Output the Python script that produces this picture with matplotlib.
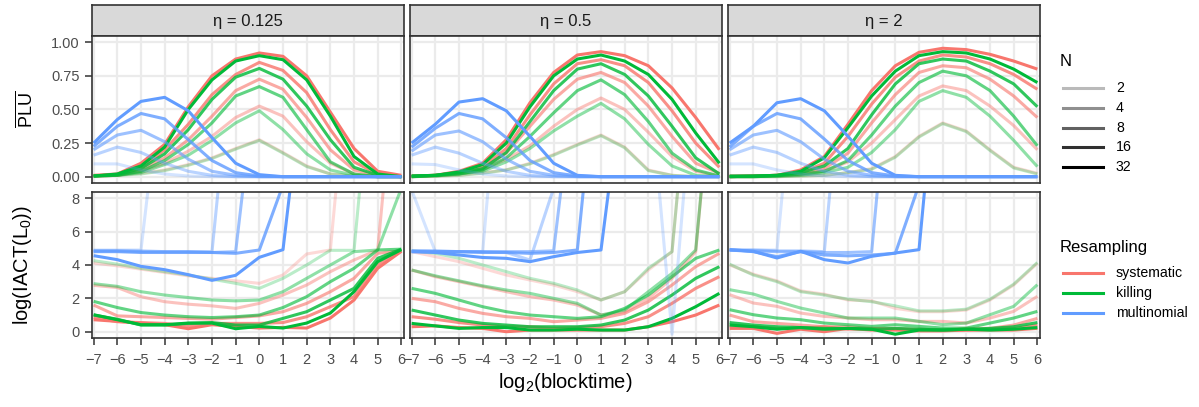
import matplotlib
matplotlib.use("Agg")
import matplotlib.pyplot as plt
from matplotlib.lines import Line2D

# ---------------------------------------------------------------- data
blocktime_log2 = list(range(-7, 7))
eta_labels = ["η = 0.125", "η = 0.5", "η = 2"]
N_values = [2, 4, 8, 16, 32]
N_alpha = [0.27, 0.44, 0.62, 0.81, 1.0]
methods = ["systematic", "killing", "multinomial"]
method_colors = ["#F8766D", "#00BA38", "#619CFF"]

# PLU, one row per N (2, 4, 8, 16, 32)
plu_eta0125_systematic = [
    [0.005, 0.01, 0.025, 0.05, 0.09, 0.14, 0.21, 0.275, 0.18, 0.08, 0.02, 0.005, 0.0, 0.0],
    [0.005, 0.01, 0.04, 0.10, 0.19, 0.30, 0.44, 0.525, 0.45, 0.26, 0.10, 0.02, 0.0, 0.0],
    [0.005, 0.01, 0.05, 0.14, 0.275, 0.45, 0.64, 0.725, 0.65, 0.44, 0.20, 0.05, 0.01, 0.0],
    [0.005, 0.015, 0.065, 0.20, 0.39, 0.61, 0.76, 0.85, 0.79, 0.625, 0.35, 0.11, 0.02, 0.0],
    [0.01, 0.02, 0.10, 0.24, 0.52, 0.75, 0.875, 0.92, 0.895, 0.75, 0.48, 0.21, 0.04, 0.01],
]
plu_eta0125_killing = [
    [0.005, 0.01, 0.02, 0.045, 0.085, 0.135, 0.205, 0.27, 0.175, 0.075, 0.02, 0.005, 0.0, 0.0],
    [0.005, 0.01, 0.03, 0.09, 0.16, 0.27, 0.40, 0.49, 0.35, 0.17, 0.05, 0.01, 0.0, 0.0],
    [0.005, 0.01, 0.04, 0.12, 0.24, 0.40, 0.60, 0.67, 0.59, 0.35, 0.11, 0.02, 0.0, 0.0],
    [0.005, 0.015, 0.06, 0.17, 0.35, 0.575, 0.74, 0.805, 0.725, 0.525, 0.275, 0.07, 0.01, 0.0],
    [0.005, 0.02, 0.08, 0.22, 0.50, 0.72, 0.86, 0.90, 0.87, 0.72, 0.45, 0.15, 0.02, 0.0],
]
plu_eta0125_multinomial = [
    [0.095, 0.095, 0.05, 0.02, 0.005, 0.0, 0.0, 0.0, 0.0, 0.0, 0.0, 0.0, 0.0, 0.0],
    [0.16, 0.22, 0.18, 0.10, 0.04, 0.01, 0.0, 0.0, 0.0, 0.0, 0.0, 0.0, 0.0, 0.0],
    [0.20, 0.31, 0.345, 0.26, 0.13, 0.04, 0.01, 0.0, 0.0, 0.0, 0.0, 0.0, 0.0, 0.0],
    [0.225, 0.375, 0.47, 0.43, 0.275, 0.12, 0.03, 0.005, 0.0, 0.0, 0.0, 0.0, 0.0, 0.0],
    [0.25, 0.425, 0.56, 0.59, 0.49, 0.29, 0.10, 0.015, 0.0, 0.0, 0.0, 0.0, 0.0, 0.0],
]

plu_eta05_systematic = [
    [0.0, 0.005, 0.01, 0.03, 0.05, 0.10, 0.165, 0.24, 0.31, 0.22, 0.05, 0.01, 0.0, 0.0],
    [0.0, 0.005, 0.02, 0.05, 0.13, 0.23, 0.375, 0.50, 0.585, 0.50, 0.33, 0.15, 0.04, 0.005],
    [0.0, 0.01, 0.025, 0.06, 0.175, 0.375, 0.575, 0.725, 0.775, 0.70, 0.525, 0.30, 0.10, 0.025],
    [0.005, 0.01, 0.03, 0.07, 0.21, 0.46, 0.69, 0.84, 0.87, 0.825, 0.70, 0.49, 0.25, 0.07],
    [0.005, 0.01, 0.04, 0.10, 0.275, 0.55, 0.775, 0.905, 0.93, 0.90, 0.825, 0.66, 0.44, 0.20],
]
plu_eta05_killing = [
    [0.0, 0.005, 0.01, 0.025, 0.05, 0.095, 0.16, 0.235, 0.305, 0.215, 0.045, 0.01, 0.0, 0.0],
    [0.0, 0.005, 0.02, 0.04, 0.11, 0.21, 0.34, 0.45, 0.545, 0.43, 0.24, 0.08, 0.01, 0.0],
    [0.0, 0.01, 0.02, 0.05, 0.14, 0.30, 0.475, 0.64, 0.72, 0.61, 0.41, 0.175, 0.05, 0.005],
    [0.005, 0.01, 0.03, 0.06, 0.18, 0.41, 0.64, 0.80, 0.84, 0.76, 0.60, 0.375, 0.14, 0.02],
    [0.005, 0.01, 0.035, 0.09, 0.25, 0.52, 0.75, 0.875, 0.905, 0.86, 0.76, 0.575, 0.325, 0.10],
]
plu_eta05_multinomial = [
    [0.095, 0.09, 0.05, 0.02, 0.005, 0.0, 0.0, 0.0, 0.0, 0.0, 0.0, 0.0, 0.0, 0.0],
    [0.16, 0.22, 0.175, 0.10, 0.04, 0.01, 0.0, 0.0, 0.0, 0.0, 0.0, 0.0, 0.0, 0.0],
    [0.19, 0.31, 0.34, 0.26, 0.13, 0.04, 0.01, 0.0, 0.0, 0.0, 0.0, 0.0, 0.0, 0.0],
    [0.22, 0.36, 0.47, 0.43, 0.29, 0.12, 0.03, 0.005, 0.0, 0.0, 0.0, 0.0, 0.0, 0.0],
    [0.25, 0.39, 0.555, 0.58, 0.49, 0.30, 0.10, 0.01, 0.0, 0.0, 0.0, 0.0, 0.0, 0.0],
]

plu_eta2_systematic = [
    [0.0, 0.0, 0.0, 0.005, 0.01, 0.03, 0.06, 0.15, 0.30, 0.40, 0.34, 0.20, 0.07, 0.025],
    [0.0, 0.0, 0.005, 0.015, 0.04, 0.11, 0.25, 0.425, 0.60, 0.675, 0.64, 0.525, 0.38, 0.20],
    [0.0, 0.005, 0.01, 0.02, 0.06, 0.175, 0.40, 0.61, 0.775, 0.825, 0.81, 0.725, 0.60, 0.44],
    [0.0, 0.005, 0.01, 0.03, 0.10, 0.30, 0.54, 0.74, 0.86, 0.905, 0.89, 0.84, 0.76, 0.65],
    [0.005, 0.005, 0.01, 0.05, 0.15, 0.39, 0.64, 0.825, 0.925, 0.955, 0.945, 0.91, 0.86, 0.80],
]
plu_eta2_killing = [
    [0.0, 0.0, 0.0, 0.005, 0.01, 0.03, 0.055, 0.145, 0.295, 0.395, 0.335, 0.195, 0.065, 0.02],
    [0.0, 0.0, 0.005, 0.01, 0.03, 0.07, 0.18, 0.35, 0.56, 0.64, 0.59, 0.45, 0.27, 0.075],
    [0.0, 0.0, 0.005, 0.02, 0.04, 0.12, 0.31, 0.525, 0.70, 0.785, 0.75, 0.64, 0.45, 0.23],
    [0.0, 0.005, 0.01, 0.03, 0.08, 0.21, 0.46, 0.69, 0.84, 0.875, 0.86, 0.785, 0.69, 0.52],
    [0.005, 0.005, 0.01, 0.04, 0.14, 0.365, 0.60, 0.785, 0.90, 0.93, 0.92, 0.875, 0.80, 0.70],
]
plu_eta2_multinomial = [
    [0.095, 0.095, 0.05, 0.02, 0.005, 0.0, 0.0, 0.0, 0.0, 0.0, 0.0, 0.0, 0.0, 0.0],
    [0.16, 0.22, 0.18, 0.10, 0.04, 0.01, 0.0, 0.0, 0.0, 0.0, 0.0, 0.0, 0.0, 0.0],
    [0.20, 0.31, 0.345, 0.26, 0.13, 0.04, 0.01, 0.0, 0.0, 0.0, 0.0, 0.0, 0.0, 0.0],
    [0.22, 0.375, 0.47, 0.43, 0.28, 0.12, 0.03, 0.005, 0.0, 0.0, 0.0, 0.0, 0.0, 0.0],
    [0.25, 0.375, 0.55, 0.58, 0.49, 0.30, 0.10, 0.01, 0.0, 0.0, 0.0, 0.0, 0.0, 0.0],
]

# log(IACT(L0)), one row per N (2, 4, 8, 16, 32)
iact_eta0125_systematic = [
    [4.12, 3.95, 3.75, 3.55, 3.35, 3.2, 3.05, 2.9, 3.4, 4.66, 4.9, 20.0, 20.0, 20.0],
    [2.78, 2.65, 2.1, 1.8, 1.65, 1.55, 1.4, 1.7, 2.2, 2.8, 3.6, 4.3, 4.9, 20.0],
    [1.6, 0.95, 0.9, 0.85, 0.8, 0.75, 0.85, 0.95, 1.2, 1.7, 2.4, 3.2, 4.7, 4.85],
    [0.85, 0.6, 0.55, 0.5, 0.35, 0.5, 0.5, 0.5, 0.55, 0.9, 1.5, 2.1, 4.0, 4.85],
    [0.72, 0.62, 0.52, 0.42, 0.18, 0.42, 0.32, 0.22, 0.26, 0.22, 0.82, 1.9, 3.8, 4.82],
]
iact_eta0125_killing = [
    [4.26, 4.05, 3.8, 3.6, 3.4, 3.15, 2.9, 2.6, 3.2, 4.0, 4.88, 4.88, 20.0, 20.0],
    [2.88, 2.72, 2.4, 2.2, 2.05, 1.9, 1.85, 1.9, 2.4, 3.2, 4.0, 4.8, 4.9, 8.6],
    [1.82, 1.45, 1.15, 1.0, 0.9, 0.85, 0.9, 1.0, 1.45, 2.1, 3.0, 3.8, 4.9, 4.95],
    [1.0, 0.75, 0.4, 0.4, 0.5, 0.55, 0.4, 0.4, 0.8, 1.2, 1.9, 2.6, 4.4, 4.95],
    [1.02, 0.72, 0.42, 0.42, 0.52, 0.52, 0.18, 0.32, 0.22, 0.52, 1.12, 2.4, 4.2, 4.92],
]
iact_eta0125_multinomial = [
    [4.9, 4.9, 4.9, 17.0, 20.0, 20.0, 20.0, 20.0, 20.0, 20.0, 20.0, 20.0, 20.0, 20.0],
    [4.85, 4.85, 4.85, 4.8, 4.8, 4.8, 19.0, 20.0, 20.0, 20.0, 20.0, 20.0, 20.0, 20.0],
    [4.85, 4.85, 4.8, 4.8, 4.8, 4.75, 4.8, 17.0, 20.0, 20.0, 20.0, 20.0, 20.0, 20.0],
    [4.8, 4.8, 4.75, 4.75, 4.75, 4.75, 4.7, 4.9, 8.8, 20.0, 20.0, 20.0, 20.0, 20.0],
    [4.56, 4.32, 3.92, 3.72, 3.42, 3.08, 3.38, 4.46, 4.92, 17.0, 20.0, 20.0, 20.0, 20.0],
]

iact_eta05_systematic = [
    [4.8, 4.5, 4.2, 3.8, 3.4, 3.1, 2.8, 2.4, 1.9, 2.4, 3.7, 4.8, 20.0, 20.0],
    [3.7, 3.3, 3.0, 2.7, 2.4, 2.1, 1.9, 1.6, 1.0, 1.2, 2.0, 3.2, 4.8, 20.0],
    [2.0, 1.8, 1.4, 1.1, 0.9, 0.8, 0.6, 0.7, 0.8, 1.1, 1.8, 2.8, 3.9, 4.7],
    [0.9, 0.75, 0.55, 0.4, 0.3, 0.3, 0.2, 0.25, 0.3, 0.5, 0.9, 1.7, 2.6, 3.3],
    [0.3, 0.35, 0.25, 0.2, 0.0, 0.1, 0.1, 0.1, 0.1, 0.1, 0.3, 0.6, 1.0, 1.6],
]
iact_eta05_killing = [
    [4.85, 4.7, 4.4, 4.0, 3.6, 3.2, 2.9, 2.5, 1.9, 2.4, 3.8, 4.8, 20.0, 20.0],
    [3.7, 3.35, 3.05, 2.75, 2.5, 2.3, 2.0, 1.7, 1.0, 1.3, 2.4, 3.5, 4.9, 20.0],
    [2.6, 2.3, 1.9, 1.5, 1.2, 1.0, 0.9, 0.8, 0.9, 1.4, 2.2, 3.3, 4.4, 4.9],
    [1.3, 1.0, 0.7, 0.5, 0.4, 0.3, 0.3, 0.3, 0.4, 0.7, 1.3, 2.2, 3.2, 3.9],
    [0.5, 0.35, 0.2, 0.25, 0.25, 0.1, 0.1, 0.15, 0.1, 0.1, 0.3, 0.8, 1.5, 2.3],
]
iact_eta05_multinomial = [
    [8.5, 4.8, 4.8, 4.8, 21.0, 20.0, 20.0, 20.0, 20.0, 20.0, 15.8, -0.15, 16.8, 20.0],
    [4.85, 4.8, 4.8, 4.8, 4.75, 4.3, 8.6, 20.0, 20.0, 20.0, 20.0, 20.0, 20.0, 20.0],
    [4.85, 4.85, 4.8, 4.8, 4.8, 4.8, 4.85, 16.7, 20.0, 20.0, 20.0, 20.0, 20.0, 20.0],
    [4.8, 4.8, 4.8, 4.75, 4.75, 4.7, 4.75, 4.9, 19.0, 20.0, 20.0, 20.0, 20.0, 20.0],
    [4.8, 4.75, 4.6, 4.45, 4.4, 4.2, 4.5, 4.75, 4.9, 16.0, 20.0, 20.0, 20.0, 20.0],
]

iact_eta2_systematic = [
    [4.0, 3.45, 3.05, 2.45, 2.25, 1.9, 1.85, 1.4, 1.2, 1.2, 1.3, 1.9, 2.8, 4.1],
    [2.22, 1.72, 1.52, 1.12, 0.92, 0.82, 0.72, 0.72, 0.62, 0.62, 0.52, 0.82, 1.22, 2.12],
    [1.0, 0.6, 0.5, 0.4, 0.3, 0.3, 0.2, 0.2, 0.1, 0.1, 0.2, 0.2, 0.4, 0.8],
    [0.35, 0.3, 0.2, 0.2, 0.3, 0.15, 0.2, 0.15, 0.15, 0.1, 0.1, 0.15, 0.2, 0.4],
    [0.2, 0.2, -0.1, 0.15, 0.0, 0.2, 0.1, 0.1, 0.05, 0.05, 0.1, 0.1, 0.1, 0.2],
]
iact_eta2_killing = [
    [4.05, 3.4, 3.0, 2.4, 2.2, 1.95, 1.8, 1.55, 1.25, 1.25, 1.35, 1.95, 2.85, 4.15],
    [2.52, 2.26, 1.82, 1.42, 1.12, 0.82, 0.82, 0.82, 0.62, 0.42, 0.52, 1.02, 1.52, 2.82],
    [1.32, 1.02, 0.82, 0.72, 0.52, 0.42, 0.32, 0.42, 0.32, 0.22, 0.22, 0.52, 0.82, 1.22],
    [0.55, 0.4, 0.3, 0.25, 0.2, 0.2, 0.15, 0.2, 0.15, 0.1, 0.15, 0.2, 0.3, 0.55],
    [0.4, 0.3, 0.15, 0.25, 0.15, 0.2, 0.15, -0.15, 0.1, 0.1, 0.15, 0.1, 0.15, 0.25],
]
iact_eta2_multinomial = [
    [4.9, 4.9, 4.9, 20.0, 20.0, 20.0, 20.0, 20.0, 20.0, 20.0, 20.0, 20.0, 20.0, 20.0],
    [4.9, 4.9, 4.85, 4.85, 4.8, 20.0, 20.0, 20.0, 20.0, 20.0, 20.0, 20.0, 20.0, 20.0],
    [4.9, 4.85, 4.8, 4.8, 4.75, 4.75, 4.8, 20.0, 20.0, 20.0, 20.0, 20.0, 20.0, 20.0],
    [4.9, 4.8, 4.5, 4.8, 4.6, 4.55, 4.6, 4.7, 8.8, 20.0, 20.0, 20.0, 20.0, 20.0],
    [4.92, 4.82, 4.42, 4.82, 4.32, 4.12, 4.52, 4.72, 4.92, 20.0, 20.0, 20.0, 20.0, 20.0],
]

plu_panels = [
    [plu_eta0125_systematic, plu_eta0125_killing, plu_eta0125_multinomial],
    [plu_eta05_systematic, plu_eta05_killing, plu_eta05_multinomial],
    [plu_eta2_systematic, plu_eta2_killing, plu_eta2_multinomial],
]
iact_panels = [
    [iact_eta0125_systematic, iact_eta0125_killing, iact_eta0125_multinomial],
    [iact_eta05_systematic, iact_eta05_killing, iact_eta05_multinomial],
    [iact_eta2_systematic, iact_eta2_killing, iact_eta2_multinomial],
]

# ---------------------------------------------------------------- style
plt.rcParams["font.family"] = ["Liberation Sans", "DejaVu Sans"]
plt.rcParams["mathtext.fontset"] = "custom"
plt.rcParams["mathtext.rm"] = "Liberation Sans"
plt.rcParams["mathtext.it"] = "Liberation Sans:italic"
plt.rcParams["mathtext.bf"] = "Liberation Sans:bold"

W, H = 1199, 407
DPI = 100
fig = plt.figure(figsize=(W / DPI, H / DPI), dpi=DPI)
fig.patch.set_facecolor("white")

BORDER = "#333333"
GRID = "#EBEBEB"
TICK_TXT = "#4D4D4D"
LW = 2.2
TICK_SIZE = 10.5
TITLE_SIZE = 14.5


def fx(px):
    return px / W


def fy(py):
    return 1 - py / H


def rect(left, top, right, bottom):
    return [fx(left), fy(bottom), fx(right) - fx(left), fy(top) - fy(bottom)]


col_left = [91.5, 409.5, 727.5]
col_width = 312.0
strip_top, strip_bottom = 5.0, 35.5
row_bounds = [(35.5, 183.4), (191.6, 338.4)]
row_ylim = [(-0.05, 1.05), (-0.4, 8.4)]
row_yticks = [[0.0, 0.25, 0.5, 0.75, 1.0], [0, 2, 4, 6, 8]]
row_yticklabels = [["0.00", "0.25", "0.50", "0.75", "1.00"], ["0", "2", "4", "6", "8"]]

for c in range(3):
    left = col_left[c]
    right = left + col_width

    # facet strip
    sax = fig.add_axes(rect(left, strip_top, right, strip_bottom))
    sax.set_facecolor("#D9D9D9")
    sax.set_xticks([])
    sax.set_yticks([])
    for sp in sax.spines.values():
        sp.set_color(BORDER)
        sp.set_linewidth(1.2)
    sax.text(0.5, 0.47, eta_labels[c], transform=sax.transAxes, ha="center",
             va="center", fontsize=12, color="#1A1A1A")

    for r in range(2):
        top, bottom = row_bounds[r]
        ax = fig.add_axes(rect(left, top, right, bottom))
        ax.set_facecolor("white")
        ax.set_xlim(-7.09, 6.09)
        ax.set_ylim(*row_ylim[r])
        ax.set_xticks(blocktime_log2)
        ax.set_yticks(row_yticks[r])
        ax.grid(True, color=GRID, linewidth=1.6)
        ax.set_axisbelow(True)
        for sp in ax.spines.values():
            sp.set_color(BORDER)
            sp.set_linewidth(1.2)
            sp.set_zorder(5)

        panel_data = plu_panels[c] if r == 0 else iact_panels[c]
        for m in range(3):
            for k in range(len(N_values)):
                ax.plot(blocktime_log2, panel_data[m][k], color=method_colors[m],
                        alpha=N_alpha[k], linewidth=LW, solid_joinstyle="round",
                        solid_capstyle="butt", zorder=2)

        ax.tick_params(axis="both", which="both", length=5, width=1.1,
                       color=BORDER, labelcolor=TICK_TXT, labelsize=TICK_SIZE)
        ax.tick_params(axis="y", pad=3.5)
        ax.tick_params(axis="x", pad=5.5)
        if c == 0:
            ax.set_yticklabels(row_yticklabels[r])
        else:
            ax.tick_params(axis="y", left=False, labelleft=False)
        if r == 1:
            ax.set_xticklabels([f"\u2212{-v}" if v < 0 else str(v) for v in blocktime_log2])
        else:
            ax.tick_params(axis="x", bottom=False, labelbottom=False)

# axis titles
fig.text(fx(26), fy(109.5), r"$\overline{\mathrm{PLU}}$", rotation=90,
         ha="center", va="center", fontsize=13, color="black")
fig.text(fx(22), fy(265), r"$\mathrm{log(IACT(L}_0\mathrm{))}$", rotation=90,
         ha="center", va="center", fontsize=TITLE_SIZE, color="black")
fig.text(fx(565.5), fy(382), r"$\mathrm{log}_2\mathrm{(blocktime)}$",
         ha="center", va="center", fontsize=TITLE_SIZE, color="black")

# legend: N (line transparency)
fig.text(fx(1060), fy(62), "N", ha="left", va="center", fontsize=12, color="black")
for k, (n, a) in enumerate(zip(N_values, N_alpha)):
    y = [87.7, 107.7, 127.7, 147.3, 167.0][k]
    fig.add_artist(Line2D([fx(1063), fx(1103)], [fy(y), fy(y)], color="black",
                          alpha=a, linewidth=LW, transform=fig.transFigure))
    fig.text(fx(1116), fy(y), str(n), ha="left", va="center", fontsize=10.2, color="black")

# legend: resampling scheme (colour)
fig.text(fx(1060), fy(247.5), "Resampling", ha="left", va="center", fontsize=12, color="black")
for m, name in enumerate(methods):
    y = [273.3, 293.3, 313.3][m]
    fig.add_artist(Line2D([fx(1063), fx(1103)], [fy(y), fy(y)], color=method_colors[m],
                          linewidth=LW, transform=fig.transFigure))
    fig.text(fx(1116), fy(y), name, ha="left", va="center", fontsize=10.2, color="black")

fig.savefig("out.png", dpi=DPI, facecolor="white")
